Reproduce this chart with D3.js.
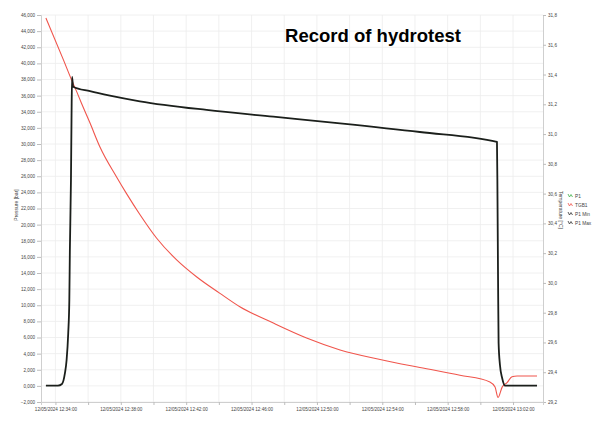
<!DOCTYPE html>
<meta charset="utf-8" />
<script src="https://d3js.org/d3.v7.min.js"></script>
<style>
  body { margin: 0; background: #fff; }
  text { font-family: "Liberation Sans", Arial, sans-serif; }
</style>
<div id="my_dataviz"></div>
<script>
  // pressure P1 [bar] (left axis)
  var pressureTimes = ["12:33:25", "12:34:09", "12:34:24", "12:34:35", "12:34:41", "12:34:47", "12:34:51",
    "12:34:53", "12:34:57", "12:34:59", "12:35:01", "12:35:05", "12:36:07", "12:37:20", "12:39:10",
    "12:43:15", "12:47:20", "12:51:25", "12:56:18", "13:01:01", "13:01:03", "13:01:05", "13:01:07",
    "13:01:12", "13:01:20", "13:01:31", "13:03:28"];
  var pressureValues = [0.02, 0.02, 0.23, 1.6, 3.21, 6.56, 10.65,
    16.85, 25.54, 32.98, 38.31, 37.11, 36.55, 36.0, 35.3,
    34.22, 33.39, 32.57, 31.49, 30.25, 23.05, 13.13, 5.32,
    2.59, 0.98, 0.02, 0.02];

  // temperature TGB1 [°C] (right axis)
  var tempTimes = ["12:33:25", "12:34:29", "12:34:59", "12:35:18", "12:35:36", "12:36:07", "12:36:43",
    "12:37:45", "12:38:21", "12:39:10", "12:40:11", "12:41:25", "12:42:39", "12:44:04", "12:45:17",
    "12:47:20", "12:49:22", "12:51:25", "12:53:52", "12:56:18", "12:58:45", "13:00:35", "13:00:54",
    "13:01:05", "13:01:20", "13:01:38", "13:01:56", "13:02:15", "13:03:28"];
  var tempValues = [31.78, 31.5, 31.365, 31.285, 31.206, 31.074, 30.915,
    30.71, 30.6, 30.46, 30.302, 30.155, 30.04, 29.93, 29.84,
    29.73, 29.63, 29.55, 29.486, 29.432, 29.38, 29.335, 29.3,
    29.23, 29.3, 29.33, 29.37, 29.375, 29.375];

  var leftTicks = d3.range(-2, 46.01, 2);
  var rightTicks = d3.range(29.2, 31.81, 0.2);
  var timeTicks = ["12:34:00", "12:36:00", "12:38:00", "12:40:00", "12:42:00", "12:44:00", "12:46:00",
    "12:48:00", "12:50:00", "12:52:00", "12:54:00", "12:56:00", "12:58:00", "13:00:00", "13:02:00"];
  var legendNames = ["P1", "TGB1", "P1 Min", "P1 Max"];
  var legendColors = ["#3fae49", "#f0554c", "#333", "#333"];

  var day = "12/05/2024 ";
  var parse = d3.timeParse("%d/%m/%Y %H:%M:%S");
  var fmtTime = d3.timeFormat("%d/%m/%Y %H:%M:%S");
  var de = d3.formatLocale({ decimal: ",", thousands: ".", grouping: [3], currency: ["", "€"] });

  var width = 603, height = 423;
  var plot = { left: 41, right: 543, top: 15, bottom: 402 };

  var svg = d3.select("#my_dataviz").append("svg")
    .attr("width", width).attr("height", height);

  var x = d3.scaleTime()
    .domain([parse(day + "12:33:07"), parse(day + "13:03:50")])
    .range([plot.left, plot.right]);
  var yP = d3.scaleLinear().domain([-2, 46]).range([plot.bottom, plot.top]);
  var yT = d3.scaleLinear().domain([29.2, 31.8]).range([plot.bottom, plot.top]);

  var tickDates = timeTicks.map(function (t) { return parse(day + t); });

  // grid
  svg.append("g").selectAll("line").data(leftTicks).enter().append("line")
    .attr("x1", plot.left).attr("x2", plot.right)
    .attr("y1", function (d) { return yP(d); }).attr("y2", function (d) { return yP(d); })
    .attr("stroke", "#ececec").attr("stroke-width", 0.8);
  svg.append("g").selectAll("line").data(tickDates).enter().append("line")
    .attr("x1", function (d) { return x(d); }).attr("x2", function (d) { return x(d); })
    .attr("y1", plot.top).attr("y2", plot.bottom)
    .attr("stroke", "#ececec").attr("stroke-width", 0.8);

  // axes
  var axisStyle = function (g) {
    g.selectAll("path").attr("stroke", "#cfcfcf");
    g.selectAll("line").attr("stroke", "#bdbdbd");
    g.selectAll("text").attr("fill", "#444").style("font-size", "4.6px");
  };
  svg.append("g").attr("transform", "translate(" + plot.left + ",0)")
    .call(d3.axisLeft(yP).tickValues(leftTicks).tickSize(4).tickPadding(2)
      .tickFormat(de.format(".3f")))
    .call(axisStyle);
  svg.append("g").attr("transform", "translate(" + plot.right + ",0)")
    .call(d3.axisRight(yT).tickValues(rightTicks).tickSize(3).tickPadding(2)
      .tickFormat(de.format(".1f")))
    .call(axisStyle);
  svg.append("g").attr("transform", "translate(0," + plot.bottom + ")")
    .call(d3.axisBottom(x).tickValues(tickDates).tickSize(3).tickPadding(3)
      .tickFormat(function (d, i) { return i % 2 === 0 ? fmtTime(d) : ""; }))
    .call(axisStyle);

  // axis titles
  svg.append("text").attr("transform", "translate(18,205) rotate(-90)")
    .attr("text-anchor", "middle").attr("fill", "#444").style("font-size", "5px")
    .text("Pressure [bar]");
  svg.append("text").attr("transform", "translate(559,210) rotate(90)")
    .attr("text-anchor", "middle").attr("fill", "#444").style("font-size", "5px")
    .text("Temperature [°C]");

  // lines
  var pData = pressureTimes.map(function (t, i) { return [parse(day + t), pressureValues[i]]; });
  var tData = tempTimes.map(function (t, i) { return [parse(day + t), tempValues[i]]; });

  svg.append("path").datum(tData)
    .attr("fill", "none").attr("stroke", "#f0554c").attr("stroke-width", 1.1)
    .attr("d", d3.line().x(function (d) { return x(d[0]); }).y(function (d) { return yT(d[1]); })
      .curve(d3.curveMonotoneX));
  svg.append("path").datum(pData)
    .attr("fill", "none").attr("stroke", "#1b1f1b").attr("stroke-width", 1.8)
    .attr("stroke-linejoin", "round")
    .attr("d", d3.line().x(function (d) { return x(d[0]); }).y(function (d) { return yP(d[1]); })
      .curve(d3.curveMonotoneX));

  // legend
  var legend = svg.append("g").attr("transform", "translate(568,196)");
  var item = legend.selectAll("g").data(legendNames).enter().append("g")
    .attr("transform", function (d, i) { return "translate(0," + i * 9 + ")"; });
  item.append("path").attr("d", "M0,-2 L1.5,1 L3,-1.5 L4.5,1")
    .attr("fill", "none").attr("stroke-width", 0.8)
    .attr("stroke", function (d, i) { return legendColors[i]; });
  item.append("text").attr("x", 7).attr("y", 1.5)
    .attr("fill", "#444").style("font-size", "4.8px")
    .text(function (d) { return d; });

  // title
  svg.append("text").attr("x", 373).attr("y", 42).attr("text-anchor", "middle")
    .style("font-size", "18.5px").style("font-weight", "bold").attr("fill", "#000")
    .text("Record of hydrotest");
</script>
